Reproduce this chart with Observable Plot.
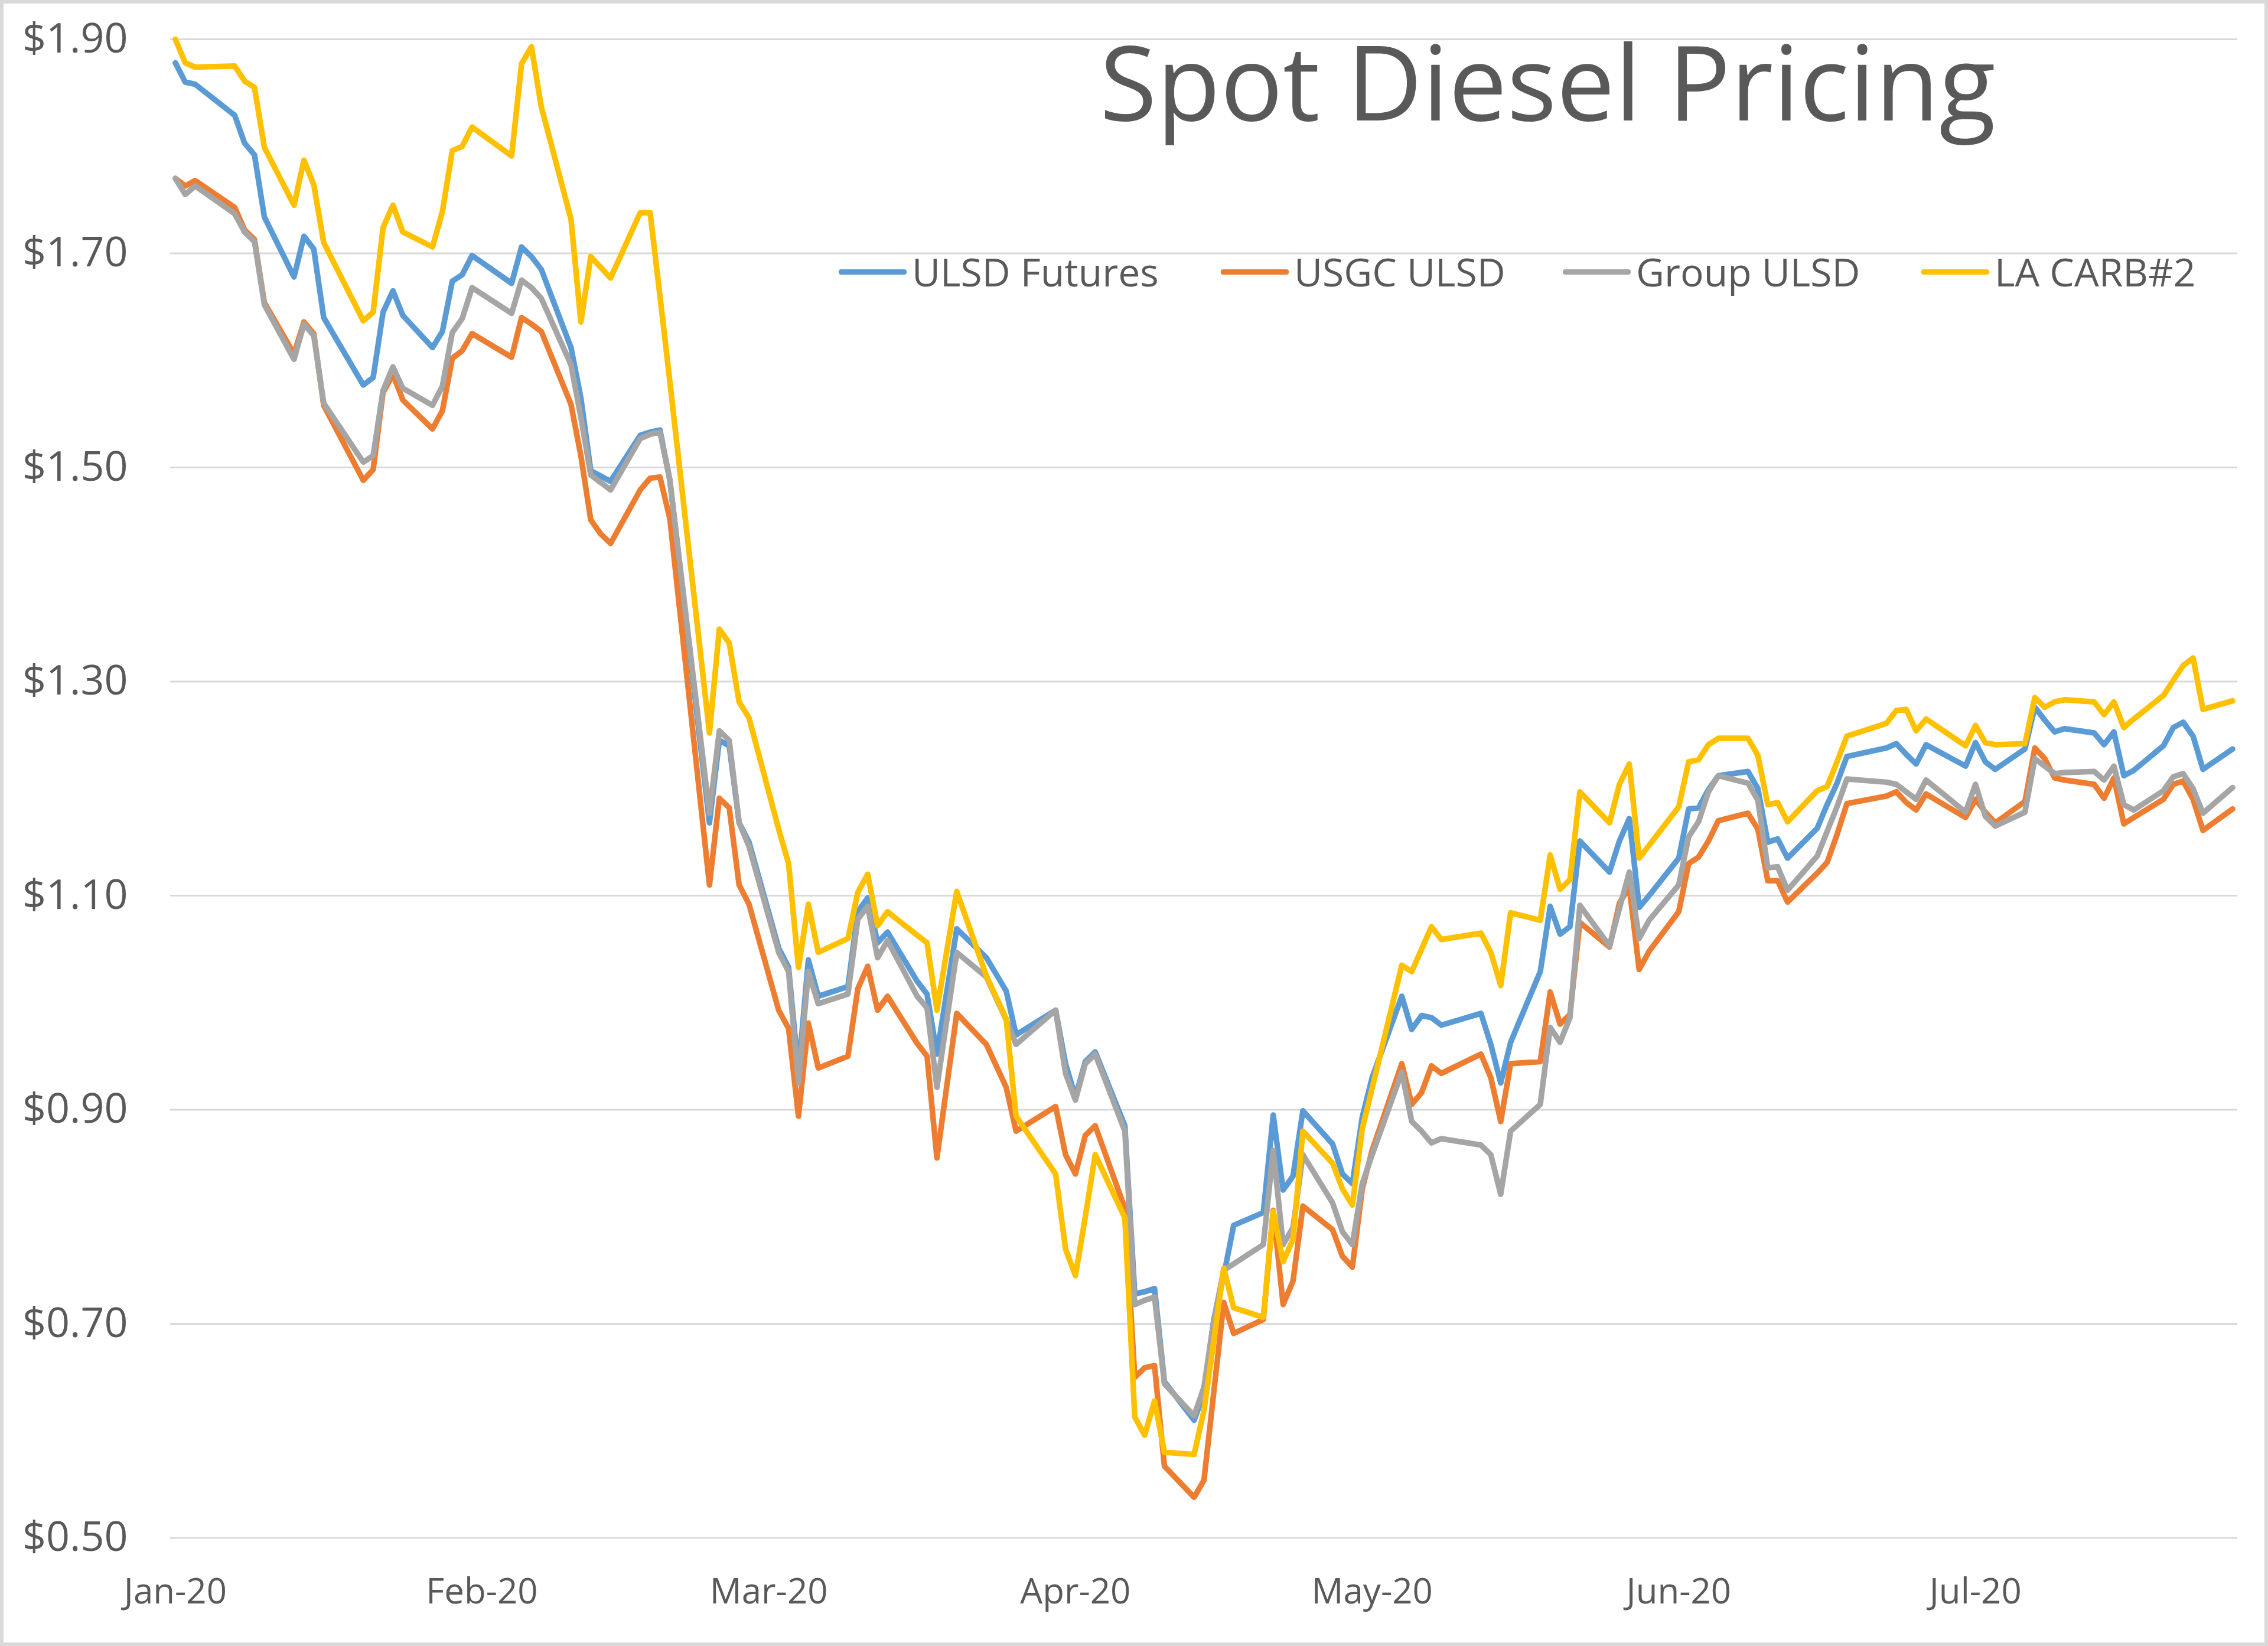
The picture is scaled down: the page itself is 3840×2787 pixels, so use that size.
<!DOCTYPE html>
<html>
<head>
<meta charset="utf-8">
<script src="https://cdn.jsdelivr.net/npm/d3@7"></script>
<script src="https://cdn.jsdelivr.net/npm/@observablehq/plot@0.6"></script>
<style>
  html, body { margin: 0; padding: 0; background: #ffffff; }
  #chart { position: relative; width: 3840px; height: 2787px; overflow: hidden; background: #ffffff;
           font-family: "Open Sans", "Noto Sans", sans-serif; color: #595959; }
  #chart svg { position: absolute; left: 0; top: 0; }
  #title { position: absolute; left: 1862px; top: 48px; font-size: 176px; line-height: 176px; white-space: nowrap; color: #595959; }
  .leg-swatch { position: absolute; top: 456px; width: 115px; height: 9px; border-radius: 4px; }
  .leg-text { position: absolute; top: 426px; font-size: 66px; line-height: 66px; white-space: nowrap; color: #595959; }
  #border { position: absolute; left: 0; top: 0; width: 3840px; height: 2787px; box-sizing: border-box;
            border: 6px solid #d9d9d9; pointer-events: none; }
</style>
</head>
<body>
<div id="chart"></div>
<script>
// ---------- DATA ----------
const seriesNames = ["ULSD Futures", "USGC ULSD", "Group ULSD", "LA CARB#2"];
const seriesColors = ["#5B9BD5", "#ED7D31", "#A5A5A5", "#FFC000"];

const dates = [
  "2020-01-01","2020-01-02","2020-01-03","2020-01-07","2020-01-08","2020-01-09","2020-01-10",
  "2020-01-13","2020-01-14","2020-01-15","2020-01-16","2020-01-20","2020-01-21","2020-01-22",
  "2020-01-23","2020-01-24","2020-01-27","2020-01-28","2020-01-29","2020-01-30","2020-01-31",
  "2020-02-04","2020-02-05","2020-02-06","2020-02-07","2020-02-10","2020-02-11","2020-02-12",
  "2020-02-13","2020-02-14","2020-02-17","2020-02-18","2020-02-19","2020-02-20","2020-02-24",
  "2020-02-25","2020-02-26","2020-02-27","2020-02-28","2020-03-02","2020-03-03","2020-03-04",
  "2020-03-05","2020-03-06","2020-03-09","2020-03-10","2020-03-11","2020-03-12","2020-03-13",
  "2020-03-16","2020-03-17","2020-03-18","2020-03-20","2020-03-23","2020-03-25","2020-03-26",
  "2020-03-30","2020-03-31","2020-04-01","2020-04-02","2020-04-03","2020-04-06","2020-04-07",
  "2020-04-08","2020-04-09","2020-04-10","2020-04-13","2020-04-14","2020-04-15","2020-04-16",
  "2020-04-17","2020-04-20","2020-04-21","2020-04-22","2020-04-23","2020-04-24","2020-04-27",
  "2020-04-28","2020-04-29","2020-04-30","2020-05-01","2020-05-04","2020-05-05","2020-05-06",
  "2020-05-07","2020-05-08","2020-05-12","2020-05-13","2020-05-14","2020-05-15","2020-05-18",
  "2020-05-19","2020-05-20","2020-05-21","2020-05-22","2020-05-25","2020-05-26","2020-05-27",
  "2020-05-28","2020-05-29","2020-06-01","2020-06-02","2020-06-03","2020-06-04","2020-06-05",
  "2020-06-08","2020-06-09","2020-06-10","2020-06-11","2020-06-12","2020-06-15","2020-06-16",
  "2020-06-17","2020-06-18","2020-06-22","2020-06-23","2020-06-24","2020-06-25","2020-06-26",
  "2020-06-30","2020-07-01","2020-07-02","2020-07-03","2020-07-06","2020-07-07","2020-07-08",
  "2020-07-09","2020-07-10","2020-07-13","2020-07-14","2020-07-15","2020-07-16","2020-07-17",
  "2020-07-20","2020-07-21","2020-07-22","2020-07-23","2020-07-24","2020-07-27"
];

const ulsdFutures = [
  1.878,1.860,1.858,1.829,1.803,1.792,1.734,
  1.678,1.716,1.704,1.640,1.577,1.584,1.645,
  1.665,1.642,1.612,1.627,1.674,1.680,1.698,
  1.672,1.706,1.697,1.685,1.612,1.565,1.497,
  1.492,1.487,1.530,1.533,1.535,1.488,1.168,
  1.245,1.240,1.168,1.150,1.051,1.033,0.935,
  1.040,1.006,1.015,1.085,1.098,1.056,1.066,
  1.020,1.008,0.952,1.069,1.042,1.011,0.970,
  0.993,0.943,0.912,0.945,0.954,0.885,0.728,
  0.730,0.733,0.646,0.610,0.635,0.704,0.745,
  0.792,0.804,0.895,0.825,0.838,0.899,0.868,
  0.840,0.831,0.893,0.930,1.006,0.975,0.988,
  0.986,0.979,0.990,0.961,0.925,0.963,1.029,
  1.090,1.064,1.071,1.151,1.122,1.151,1.172,
  1.089,1.100,1.135,1.181,1.182,1.199,1.212,
  1.216,1.200,1.150,1.153,1.135,1.163,1.185,
  1.205,1.230,1.238,1.242,1.232,1.223,1.241,
  1.221,1.243,1.225,1.218,1.237,1.276,1.264,
  1.253,1.256,1.252,1.241,1.253,1.212,1.217,
  1.240,1.257,1.262,1.249,1.218,1.237
];

const usgcUlsd = [
  1.770,1.763,1.768,1.743,1.722,1.713,1.654,
  1.606,1.636,1.625,1.558,1.488,1.498,1.570,
  1.587,1.563,1.536,1.553,1.602,1.609,1.625,
  1.603,1.640,1.634,1.627,1.559,1.511,1.451,
  1.438,1.429,1.479,1.490,1.491,1.452,1.110,
  1.191,1.182,1.110,1.092,0.993,0.976,0.894,
  0.981,0.939,0.950,1.013,1.034,0.993,1.006,
  0.962,0.950,0.855,0.990,0.961,0.921,0.880,
  0.903,0.858,0.840,0.876,0.885,0.808,0.650,
  0.659,0.661,0.567,0.538,0.554,0.637,0.720,
  0.691,0.704,0.806,0.718,0.740,0.810,0.788,
  0.763,0.753,0.826,0.862,0.943,0.905,0.916,
  0.941,0.934,0.952,0.930,0.889,0.943,0.945,
  1.010,0.980,0.989,1.075,1.052,1.093,1.108,
  1.031,1.048,1.085,1.130,1.136,1.151,1.170,
  1.177,1.162,1.114,1.114,1.094,1.121,1.131,
  1.157,1.186,1.193,1.197,1.187,1.180,1.195,
  1.173,1.190,1.178,1.168,1.188,1.238,1.228,
  1.210,1.208,1.204,1.191,1.210,1.167,1.173,
  1.190,1.204,1.207,1.190,1.161,1.181
];

const groupUlsd = [
  1.770,1.755,1.763,1.737,1.720,1.711,1.652,
  1.601,1.634,1.623,1.560,1.505,1.511,1.572,
  1.594,1.574,1.558,1.576,1.626,1.639,1.668,
  1.644,1.675,1.668,1.658,1.596,1.547,1.493,
  1.486,1.479,1.527,1.531,1.533,1.488,1.177,
  1.254,1.245,1.168,1.146,1.047,1.029,0.925,
  1.029,0.999,1.008,1.078,1.090,1.042,1.058,
  1.006,0.995,0.921,1.047,1.024,0.984,0.961,
  0.993,0.934,0.909,0.943,0.952,0.880,0.718,
  0.722,0.725,0.644,0.614,0.641,0.704,0.750,
  0.756,0.774,0.862,0.774,0.790,0.858,0.813,
  0.786,0.774,0.831,0.858,0.935,0.889,0.880,
  0.869,0.873,0.867,0.858,0.821,0.880,0.905,
  0.977,0.963,0.986,1.091,1.053,1.088,1.122,
  1.060,1.077,1.110,1.155,1.169,1.197,1.212,
  1.205,1.189,1.126,1.127,1.105,1.137,1.160,
  1.183,1.209,1.206,1.204,1.197,1.190,1.208,
  1.178,1.204,1.174,1.165,1.178,1.228,1.221,
  1.214,1.215,1.216,1.208,1.221,1.185,1.180,
  1.198,1.211,1.214,1.200,1.177,1.201
];

const laCarb2 = [
  1.900,1.878,1.874,1.875,1.861,1.855,1.799,
  1.745,1.787,1.764,1.710,1.637,1.645,1.724,
  1.745,1.720,1.706,1.739,1.796,1.800,1.818,
  1.791,1.877,1.893,1.837,1.732,1.636,1.697,
  1.687,1.677,1.738,1.738,1.660,1.580,1.252,
  1.349,1.336,1.281,1.266,1.162,1.130,1.033,
  1.092,1.047,1.060,1.103,1.120,1.072,1.085,
  1.063,1.056,0.993,1.104,1.025,0.985,0.894,
  0.840,0.770,0.745,0.800,0.858,0.799,0.613,
  0.596,0.628,0.580,0.578,0.619,0.685,0.752,
  0.715,0.706,0.805,0.758,0.779,0.880,0.850,
  0.826,0.811,0.882,0.920,1.035,1.029,1.050,
  1.071,1.059,1.065,1.047,1.016,1.084,1.077,
  1.138,1.106,1.115,1.197,1.168,1.204,1.223,
  1.135,1.147,1.183,1.225,1.227,1.241,1.247,
  1.247,1.231,1.185,1.187,1.169,1.198,1.202,
  1.225,1.249,1.261,1.273,1.274,1.254,1.265,
  1.240,1.259,1.243,1.241,1.242,1.285,1.276,
  1.281,1.283,1.281,1.269,1.281,1.257,1.265,
  1.287,1.301,1.315,1.322,1.274,1.282
];

const yTicks = [0.50, 0.70, 0.90, 1.10, 1.30, 1.50, 1.70, 1.90];
const monthTicks = ["2020-01-01","2020-02-01","2020-03-01","2020-04-01","2020-05-01","2020-06-01","2020-07-01"];
const monthLabels = ["Jan-20","Feb-20","Mar-20","Apr-20","May-20","Jun-20","Jul-20"];
const titleText = "Spot Diesel Pricing";

// ---------- BUILD ----------
const seriesValues = [ulsdFutures, usgcUlsd, groupUlsd, laCarb2];
const rows = [];
seriesNames.forEach((name, k) => {
  dates.forEach((d, i) => rows.push({date: new Date(d + "T00:00:00Z"), series: name, value: seriesValues[k][i]}));
});
const tickDates = monthTicks.map(d => new Date(d + "T00:00:00Z"));
const labelOf = new Map(tickDates.map((d, i) => [+d, monthLabels[i]]));

const chart = Plot.plot({
  width: 3840,
  height: 2787,
  marginTop: 66,
  marginBottom: 183.5,
  marginLeft: 288,
  marginRight: 52,
  style: {background: "#ffffff", color: "#595959", fontFamily: "'Open Sans', 'Noto Sans', sans-serif", fontSize: "60px", overflow: "visible"},
  x: {type: "utc", domain: [new Date("2019-12-31T12:00:00Z"), new Date("2020-07-27T12:00:00Z")], label: null},
  y: {domain: [0.5, 1.9], label: null},
  color: {domain: seriesNames, range: seriesColors},
  marks: [
    Plot.gridY(yTicks, {stroke: "#d9d9d9", strokeOpacity: 1, strokeWidth: 3}),
    Plot.axisY(yTicks, {tickSize: 0, tickPadding: 72, fontSize: 70, fill: "#595959",
      tickFormat: d => "$" + d.toFixed(2), label: null}),
    Plot.axisX(tickDates, {tickSize: 0, tickPadding: 68, fontSize: 60, fill: "#595959",
      tickFormat: d => labelOf.get(+d), label: null}),
    Plot.lineY(rows, {x: "date", y: "value", z: "series", stroke: "series",
      strokeWidth: 9.5, strokeLinejoin: "round", strokeLinecap: "round"})
  ]
});

const root = document.getElementById("chart");
root.appendChild(chart);

// Title
const t = document.createElement("div");
t.id = "title";
t.textContent = titleText;
root.appendChild(t);

// Legend (inside the plot area, as in the reference)
const legendSwatchX = [1420, 2067, 2646, 3253];
seriesNames.forEach((name, k) => {
  const sw = document.createElement("div");
  sw.className = "leg-swatch";
  sw.style.left = legendSwatchX[k] + "px";
  sw.style.background = seriesColors[k];
  root.appendChild(sw);
  const tx = document.createElement("div");
  tx.className = "leg-text";
  tx.style.left = (legendSwatchX[k] + 124) + "px";
  tx.textContent = name;
  root.appendChild(tx);
});

const b = document.createElement("div");
b.id = "border";
root.appendChild(b);
</script>
</body>
</html>
